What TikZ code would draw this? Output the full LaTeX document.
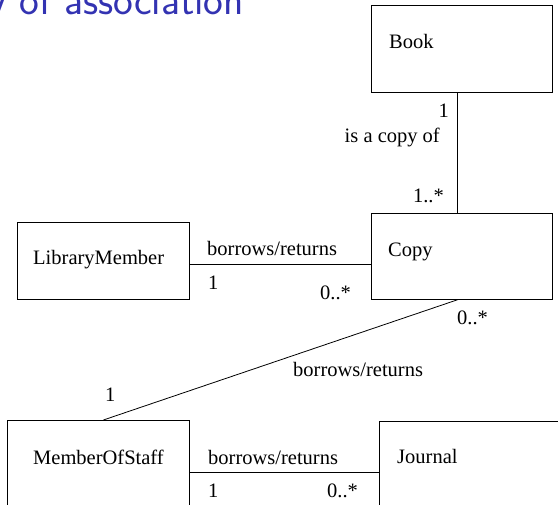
\documentclass[tikz,border=0pt]{standalone}
\usepackage{fontspec}
\setmainfont{Liberation Serif}
\definecolor{titleblue}{rgb}{0.2,0.2,0.7}
\tikzset{
  cls/.style={draw, line width=0.8pt, inner sep=0pt, anchor=north west},
  lbl/.style={font=\fontsize{20.5}{24}\selectfont, inner sep=0pt, anchor=base west},
  lblr/.style={lbl, anchor=base east},
  assoc/.style={line width=0.8pt},
}

\begin{document}
\begin{tikzpicture}[x=1pt,y=-1pt]
        \useasboundingbox (0,0) rectangle (558,505);
        \clip (0,0) rectangle (558,505);

        \node[font=\sffamily\fontsize{42}{48}\selectfont, text=titleblue, inner sep=0pt, anchor=base east] (title) at (244,14.5) {Multiplicity of association};

        \node[cls, minimum width=181, minimum height=87] (book) at (371,5) {};
        \node[cls, minimum width=181, minimum height=86] (copy) at (371,213) {};
        \node[cls, minimum width=172, minimum height=77] (member) at (17,222) {};
        \node[cls, minimum width=182, minimum height=104] (staff) at (7,420) {};
        \node[cls, minimum width=200, minimum height=102] (journal) at (379,421) {};

        \node[lbl] (book-t) at (389,49) {Book};
        \node[lbl] (copy-t) at (388,257) {Copy};
        \node[lbl] (member-t) at (33,265) {LibraryMember};
        \node[lbl] (staff-t) at (33,465) {MemberOfStaff};
        \node[lbl] (journal-t) at (397,464) {Journal};

        \draw[assoc] ([xshift=-4.5pt]book.south) -- ([xshift=-4.5pt]copy.north);
        \draw[assoc] ([yshift=-3.5pt]member.east) -- ([yshift=-3.5pt]member.east -| copy.west);
        \draw[assoc] ([xshift=-4.5pt]copy.south) -- ([xshift=5pt]staff.north);
        \draw[assoc] (staff.east) -- (journal.west);

        \node[lblr] (m1) at (449,118) {1};
        \node[lblr] (a1) at (440,143) {is a copy of};
        \node[lblr] (m2) at (444,203) {1..*};
        \node[lbl] (a2) at (207,256) {borrows/returns};
        \node[lbl] (m3) at (208,290) {1};
        \node[lbl] (m4) at (320,300) {0..*};
        \node[lbl] (m5) at (457,325) {0..*};
        \node[lbl] (a3) at (293,377) {borrows/returns};
        \node[lbl] (m6) at (105,402) {1};
        \node[lbl] (a4) at (208,465) {borrows/returns};
        \node[lbl] (m7) at (208,498) {1};
        \node[lbl] (m8) at (327,498) {0..*};
\end{tikzpicture}
\end{document}
